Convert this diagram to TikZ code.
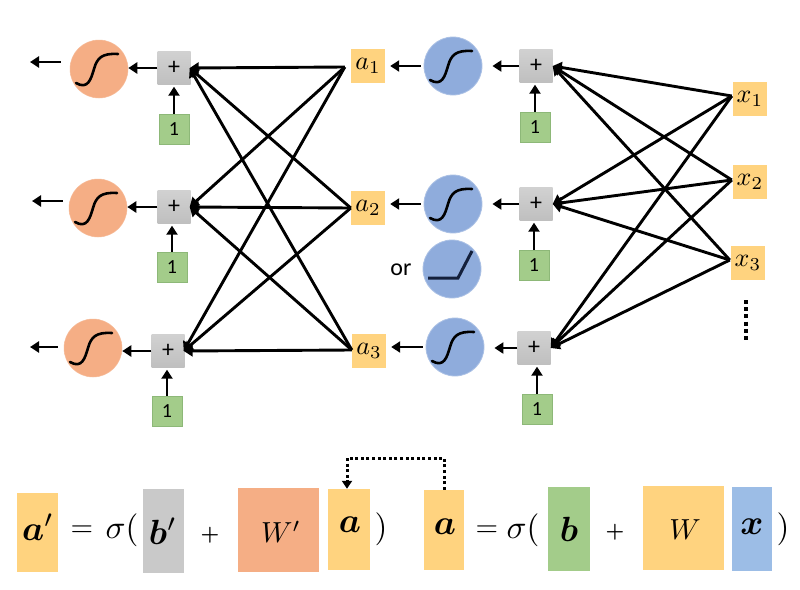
\documentclass[tikz,border=0pt]{standalone}
\usepackage{amsmath,bm,graphicx}
\usepackage{fontspec}
\setsansfont{Carlito}
\usetikzlibrary{arrows.meta,calc}
\newcommand{\vm}[1]{\scalebox{2.6}{$#1$}}
\newcommand{\eqm}[1]{\scalebox{2.9}{$#1$}}
\newcommand{\eqb}[1]{\scalebox{3.5}{$#1$}}
\newcommand{\eqp}[1]{\scalebox{3.3}{$#1$}}
\newcommand{\eqs}[1]{\scalebox{2.1}{$#1$}}
\definecolor{yel}{HTML}{FFD37F}
\definecolor{grn}{HTML}{A3CC8A}
\definecolor{grnedge}{HTML}{8DB878}
\definecolor{gry}{HTML}{C9C9C9}
\definecolor{org}{HTML}{F5AE85}
\definecolor{blu}{HTML}{8FACDC}
\definecolor{skyb}{HTML}{9CBDE6}
\definecolor{navy}{HTML}{14203C}
\tikzset{
  conn/.style={line width=2.9pt,-{Triangle[length=9pt,width=11pt]},black},
  orangec/.style={circle,minimum size=58pt,inner sep=0,fill=org,draw=org!85!white,line width=.5pt},
  bluec/.style={circle,minimum size=58pt,inner sep=0,fill=blu,draw=blu!75!white,line width=.8pt},
  plusbox/.style={rectangle,minimum size=33pt,inner sep=0,top color=gry!85!white,bottom color=gry!95!black,draw=none,font=\fontsize{24}{26}\sffamily\selectfont},
  biasbox/.style={rectangle,minimum size=30pt,inner sep=0,fill=grn,draw=grnedge,line width=.5pt,font=\fontsize{20}{22}\sffamily\selectfont},
  varbox/.style={rectangle,minimum size=34pt,inner sep=0,fill=yel},
  eqbox/.style={rectangle,inner sep=0},
  eqtext/.style={inner sep=0},
  sigcurve/.style={line width=2.6pt,line cap=round},
  sig/.pic={\draw[sigcurve] (-23,14) .. controls (-11,21) and (-8,10) .. (-5,0) .. controls (-2,-11) and (3,-16) .. (19,-15);}
}
\begin{document}
\begin{tikzpicture}[x=1pt,y=-1pt]
\useasboundingbox (0,0) rectangle (800,589);
\fill[white] (0,0) rectangle (800,589);
% output circles
\node[orangec] (o1) at (99,69) {};
\node[orangec] (o2) at (98,208) {};
\node[orangec] (o3) at (93,348) {};
\pic at (o1) {sig};
\pic at (o2) {sig};
\pic at (o3) {sig};
% plus boxes, left
\node[plusbox] (p1) at (174,68) {+};
\node[plusbox] (p2) at (174,207) {+};
\node[plusbox] (p3) at (168,351) {+};
% bias, left
\node[biasbox] (b1) at (174,129) {1};
\node[biasbox] (b2) at (172,267) {1};
\node[biasbox] (b3) at (167,411) {1};
% hidden values
\node[varbox] (a1) at (368,66) {\vm{a_1}};
\node[varbox] (a2) at (368,208) {\vm{a_2}};
\node[varbox] (a3) at (369,351) {\vm{a_3}};
% blue circles
\node[bluec] (s1) at (453,66) {};
\node[bluec] (s2) at (453,204) {};
\node[bluec] (s3) at (455,347) {};
\node[bluec] (relu) at (452,269) {};
\pic at (s1) {sig};
\pic at (s2) {sig};
\pic at (s3) {sig};
\draw[line width=3pt,color=navy] (428,278) -- (458,278) -- (472,251);
\node[inner sep=0,font=\fontsize{24}{28}\sffamily\selectfont] (ortext) at (401,270) {or};
% plus boxes, right
\node[plusbox] (q1) at (536,66) {+};
\node[plusbox] (q2) at (536,204) {+};
\node[plusbox] (q3) at (534,348) {+};
% bias, right
\node[biasbox] (c1) at (535,127) {1};
\node[biasbox] (c2) at (534,265) {1};
\node[biasbox] (c3) at (537,409) {1};
% inputs
\node[varbox] (x1) at (750,99) {\vm{x_1}};
\node[varbox] (x2) at (750,182) {\vm{x_2}};
\node[varbox] (x3) at (748,263) {\vm{x_3}};
\draw[line width=4pt,dash pattern=on 4pt off 3.2pt] (746,300) -- (746,341);
% free ends of the output arrows
\coordinate (out1) at (30,62);
\coordinate (out2) at (32,201);
\coordinate (out3) at (30,347);
\draw[conn] ($(o1.west)+(-9,-7)$) -- (out1);
\draw[conn] ($(o2.west)+(-6,-7)$) -- (out2);
\draw[conn] ($(o3.west)+(-6,-1)$) -- (out3);
% left net
\foreach \a/\sx/\sy in {a1/-6/1,a2/0/0,a3/0/-1}{
  \draw[conn] ($(\a.west)+(\sx,\sy)$) -- ($(p1.east)+(-1,0)$);
  \draw[conn] ($(\a.west)+(\sx,\sy)$) -- ($(p2.east)+(-1,0)$);
  \draw[conn] ($(\a.west)+(\sx,\sy)$) -- ($(p3.east)+(-1,0)$);
}
% right net
\foreach \x/\sx/\sy in {x1/-1/-3,x2/-1/-2,x3/-1/-3}{
  \draw[conn] ($(\x.west)+(\sx,\sy)$) -- (q1.east);
  \draw[conn] ($(\x.west)+(\sx,\sy)$) -- (q2.east);
  \draw[conn] ($(\x.west)+(\sx,\sy)$) -- (q3.east);
}
% horizontal arrows
\foreach \f/\t in {p1/o1,p2/o2,p3/o3}{\draw[conn] (\f.west) -- (\t.east |- \f.west);}
\foreach \f/\t in {s1/a1,s2/a2,s3/a3}{\draw[conn,shorten <=3pt,shorten >=5pt] (\f.west) -- (\t.east |- \f.west);}
\foreach \f/\t in {q1/s1,q2/s2,q3/s3}{\draw[conn,shorten >=10pt] (\f.west) -- (\t.east |- \f.west);}
% bias arrows
\foreach \f/\t in {b1/p1,b2/p2,b3/p3,c1/q1,c2/q2,c3/q3}{\draw[conn,shorten >=2pt] (\f.north) -- (\f.north |- \t.south);}
% bottom equations
\node[eqbox,fill=yel,minimum width=41pt,minimum height=79pt] (ap) at (37.5,532.5) {};
\node[eqtext] (apt) at (38,527) {\eqb{\bm{a}'}};
\node[eqtext] (eq1) at (82,531) {\eqm{=}};
\node[eqtext] (sg1) at (122,530) {\eqp{\sigma(}};
\node[eqbox,fill=gry,minimum width=41pt,minimum height=84pt] (bp) at (163.5,531) {};
\node[eqtext] (bpt) at (163,531) {\eqb{\bm{b}'}};
\node[eqtext] (pl1) at (210,535) {\eqs{\bm{+}}};
\node[eqbox,fill=org,minimum width=81pt,minimum height=84pt] (wp) at (278.5,530) {};
\node[eqtext] (wpt) at (281,532) {\eqm{W'}};
\node[eqbox,fill=yel,minimum width=42pt,minimum height=81pt] (an) at (349,529.5) {};
\node[eqtext] (ant) at (350,525) {\eqb{\bm{a}}};
\node[eqtext] (cl1) at (381,529) {\eqp{)}};
\node[eqbox,fill=yel,minimum width=40pt,minimum height=80pt] (a0) at (444,530) {};
\node[eqtext] (a0t) at (445,527) {\eqb{\bm{a}}};
\node[eqtext] (eq2) at (487,531) {\eqm{=}};
\node[eqtext] (sg2) at (523,530) {\eqp{\sigma(}};
\node[eqbox,fill=grn,minimum width=42pt,minimum height=84pt] (bb) at (569,529) {};
\node[eqtext] (bbt) at (569,529) {\eqb{\bm{b}}};
\node[eqtext] (pl2) at (615,532) {\eqs{\bm{+}}};
\node[eqbox,fill=yel,minimum width=81pt,minimum height=84pt] (ww) at (683.5,528) {};
\node[eqtext] (wwt) at (685,530) {\eqm{W}};
\node[eqbox,fill=skyb,minimum width=40pt,minimum height=84pt] (xx) at (752,529) {};
\node[eqtext] (xxt) at (752,527) {\eqb{\bm{x}}};
\node[eqtext] (cl2) at (783,529) {\eqp{)}};
% dotted feedback
\coordinate (bend1) at (444,458);
\coordinate (bend2) at (347,458);
\draw[line width=3pt,dash pattern=on 3pt off 2.6pt,-{Triangle[length=8pt,width=10pt]}] (a0.north) -- (bend1) -- (bend2) -- (bend2 |- an.north);
\end{tikzpicture}
\end{document}
